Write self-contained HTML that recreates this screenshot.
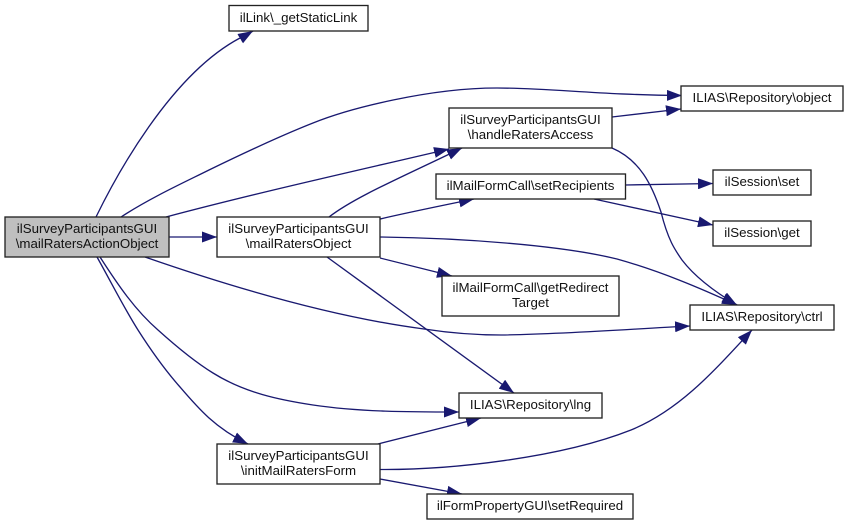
<!DOCTYPE html>
<html><head><meta charset="utf-8"><style>
html,body{margin:0;padding:0;background:#fff}
svg{display:block}
text{font-family:"Liberation Sans",sans-serif;font-size:13.3px;fill:#111;text-anchor:middle}
.n{fill:#fff;stroke:#222;stroke-width:1.33}
.e{fill:none;stroke:#191970;stroke-width:1.33}
</style></head><body>
<svg width="848" height="525" viewBox="0 0 848 525" xmlns="http://www.w3.org/2000/svg">
<defs><marker id="a" markerUnits="userSpaceOnUse" markerWidth="15" markerHeight="11" viewBox="0 0 15 11" refX="15" refY="5.5" orient="auto"><path d="M0,0L15,5.500L0,11Z" fill="#191970"/></marker></defs>
<g>
<path class="e" marker-end="url(#a)" d="M96,217C115,178 170,75 240,38C244,36 248,34 253,31"/>
<path class="e" marker-end="url(#a)" d="M121,217C150,198 185,182 209,170C250,150 280,136 313,123C350,108 430,88 497,88C550,88 600,95 682,95.500"/>
<path class="e" marker-end="url(#a)" d="M166,217C260,192 360,170 449,149"/>
<path class="e" marker-end="url(#a)" d="M329,217C355,197 400,178 462,148"/>
<path class="e" marker-end="url(#a)" d="M169,237L217,237"/>
<path class="e" marker-end="url(#a)" d="M612,117L681,109"/>
<path class="e" marker-end="url(#a)" d="M612,148C640,160 652,185 661,212C668,240 675,250 682,260C695,277 715,292 737,305"/>
<path class="e" marker-end="url(#a)" d="M380,219C410,212 440,206 474,199"/>
<path class="e" marker-end="url(#a)" d="M625,185L713,183.500"/>
<path class="e" marker-end="url(#a)" d="M594,199L713,225"/>
<path class="e" marker-end="url(#a)" d="M380,237C460,238 560,245 617,259C660,271 700,288 737,305"/>
<path class="e" marker-end="url(#a)" d="M380,258L452,276"/>
<path class="e" marker-end="url(#a)" d="M145,257C240,290 340,318 424,329C450,333 475,335 501,335C570,334 630,329 690,326"/>
<path class="e" marker-end="url(#a)" d="M327,257L514,393"/>
<path class="e" marker-end="url(#a)" d="M100,257C118,285 135,310 158,330C178,348 195,362 213,373C245,393 280,400 313,405C360,412 410,412 459,412"/>
<path class="e" marker-end="url(#a)" d="M97,257C110,280 124,308 138,330C152,352 165,370 180,387C198,408 215,428 248,444"/>
<path class="e" marker-end="url(#a)" d="M378,444L481,418"/>
<path class="e" marker-end="url(#a)" d="M380,469.500C450,470 560,458 631,430C680,410 715,370 752,330"/>
<path class="e" marker-end="url(#a)" d="M380,479L462,494"/>
</g>
<rect x="5" y="217" width="164" height="40" fill="#bfbfbf" stroke="#222" stroke-width="1.33"/>
<text x="87" y="233">ilSurveyParticipantsGUI</text><text x="87" y="248">\mailRatersActionObject</text>
<rect class="n" x="217" y="217" width="163" height="40"/>
<text x="298.500" y="233">ilSurveyParticipantsGUI</text><text x="298.500" y="248">\mailRatersObject</text>
<rect class="n" x="449" y="108" width="163" height="40"/>
<text x="530.500" y="124">ilSurveyParticipantsGUI</text><text x="530.500" y="139">\handleRatersAccess</text>
<rect class="n" x="436" y="174" width="189.500" height="25"/>
<text x="530.500" y="190">ilMailFormCall\setRecipients</text>
<rect class="n" x="681" y="86" width="162" height="25"/>
<text x="762" y="102">ILIAS\Repository\object</text>
<rect class="n" x="713" y="170" width="98" height="25"/>
<text x="762" y="186">ilSession\set</text>
<rect class="n" x="713" y="221" width="98" height="25"/>
<text x="762" y="237">ilSession\get</text>
<rect class="n" x="442" y="276" width="177" height="40"/>
<text x="530.500" y="292">ilMailFormCall\getRedirect</text><text x="530.500" y="307">Target</text>
<rect class="n" x="690" y="305" width="144" height="25"/>
<text x="762" y="321">ILIAS\Repository\ctrl</text>
<rect class="n" x="459" y="393" width="143" height="25"/>
<text x="530.500" y="409">ILIAS\Repository\lng</text>
<rect class="n" x="427" y="494" width="206" height="25"/>
<text x="530" y="510">ilFormPropertyGUI\setRequired</text>
<rect class="n" x="217" y="444" width="163" height="40"/>
<text x="298.500" y="460">ilSurveyParticipantsGUI</text><text x="298.500" y="475">\initMailRatersForm</text>
<rect class="n" x="229" y="5.500" width="139" height="25.500"/>
<text x="298.500" y="22">ilLink\_getStaticLink</text>
</svg>
</body></html>
